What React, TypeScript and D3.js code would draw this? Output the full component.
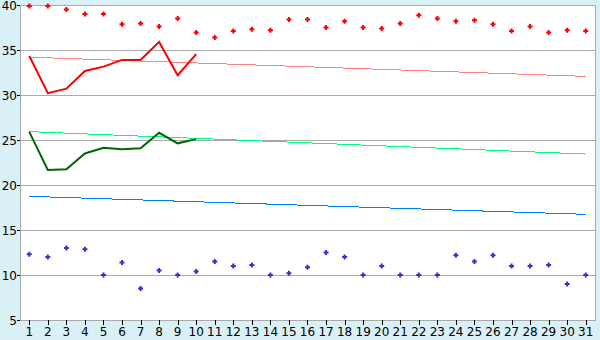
import React from "react";
import * as d3 from "d3";

const days = d3.range(1, 32).map(String);
const redPoints = [39.9, 39.9, 39.5, 39.0, 39.0, 37.85, 37.95, 37.6, 38.5, 36.95, 36.4, 37.1, 37.3, 37.2, 38.4, 38.4, 37.5, 38.2, 37.5, 37.4, 37.95, 38.85, 38.5, 38.2, 38.3, 37.85, 37.1, 37.6, 36.95, 37.2, 37.1];
const bluePoints = [12.3, 12.0, 13.0, 12.85, 10.0, 11.4, 8.5, 10.5, 10.0, 10.4, 11.5, 11.0, 11.1, 10.0, 10.2, 10.85, 12.5, 12.0, 10.0, 11.0, 10.0, 10.0, 10.0, 12.2, 11.5, 12.2, 11.0, 11.0, 11.1, 9.0, 10.0];
const redLine = [34.33, 30.2, 30.7, 32.67, 33.15, 33.9, 33.9, 35.9, 32.2, 34.55];
const greenLine = [25.9, 21.67, 21.74, 23.5, 24.14, 23.96, 24.07, 25.8, 24.63, 25.1];
const redTrend = [34.2, 32.07];
const greenTrend = [25.93, 23.44];
const blueTrend = [18.74, 16.74];
const yTicks = [5, 10, 15, 20, 25, 30, 35, 40];

const W = 600, H = 340;
const L = 20, R = 595, T = 5, B = 320;

export default function App() {
  const x = d3.scaleBand<string>().domain(days).range([L, R]);
  const cx = (i: number) => (x(days[i]) as number) + x.bandwidth() / 2;
  const y = d3.scaleLinear().domain([5, 40]).range([B, T]);
  const line = d3.line<number>().x((_, i) => cx(i)).y((d) => y(d));
  const trend = (v: number[]) => `M${cx(0)},${y(v[0])}L${cx(30)},${y(v[1])}`;
  const marker = "M-1,-2.5H1V-1H2.5V1H1V2.5H-1V1H-2.5V-1H-1Z";
  const font = "'DejaVu Sans', Verdana, sans-serif";
  return (
    <svg width={W} height={H} style={{ position: "absolute", left: 0, top: 0, display: "block" }}>
      <rect x={0} y={0} width={W} height={H} fill="#d9f0f7" />
      <rect x={L} y={T} width={R - L} height={B - T} fill="#ffffff" />
      {yTicks.map((t) => (
        <g key={t}>
          <line x1={L} x2={R} y1={Math.round(y(t)) + 0.5} y2={Math.round(y(t)) + 0.5} stroke="#aaaaaa" />
          <line x1={L - 3} x2={L} y1={Math.round(y(t)) + 0.5} y2={Math.round(y(t)) + 0.5} stroke="#000" />
          <text x={L - 3} y={y(t) + 4.5} textAnchor="end" fontSize={12} fontFamily={font} fill="#000">{t}</text>
        </g>
      ))}
      <line x1={L + 0.5} x2={L + 0.5} y1={T} y2={B} stroke="#aaaaaa" />
      <line x1={R + 0.5} x2={R + 0.5} y1={T} y2={B + 1} stroke="#aaaaaa" />
      {days.map((d, i) => (
        <g key={d}>
          <line x1={Math.round(cx(i)) + 0.5} x2={Math.round(cx(i)) + 0.5} y1={B} y2={B + 5} stroke="#000" />
          <text x={cx(i)} y={B + 16} textAnchor="middle" fontSize={12} fontFamily={font} fill="#000">{d}</text>
        </g>
      ))}
      <path d={trend(redTrend)} stroke="#ff8080" strokeWidth={1} fill="none" shapeRendering="crispEdges" />
      <path d={trend(greenTrend)} stroke="#00ff80" strokeWidth={1} fill="none" shapeRendering="crispEdges" />
      <path d={trend(blueTrend)} stroke="#0080ff" strokeWidth={1} fill="none" shapeRendering="crispEdges" />
      <path d={line(redLine) || ""} stroke="#ff0000" strokeWidth={2} fill="none" />
      <path d={line(greenLine) || ""} stroke="#006600" strokeWidth={2} fill="none" />
      {redPoints.map((v, i) => (
        <path key={"r" + i} d={marker} transform={`translate(${cx(i)},${y(v)})`} fill="#ff0000" />
      ))}
      {bluePoints.map((v, i) => (
        <path key={"b" + i} d={marker} transform={`translate(${cx(i)},${y(v)})`} fill="#3333cc" />
      ))}
    </svg>
  );
}
